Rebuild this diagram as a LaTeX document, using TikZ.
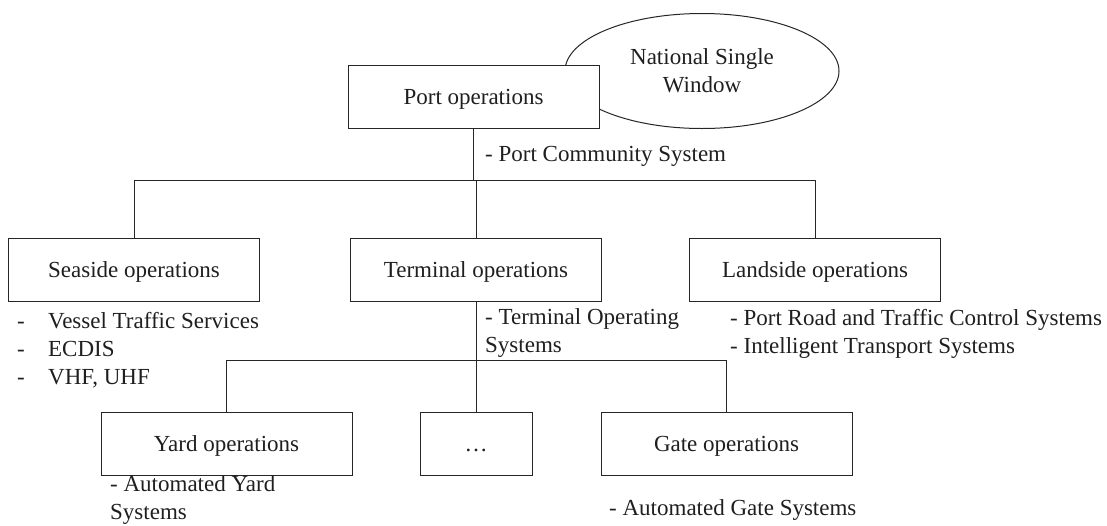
\documentclass[tikz,border=0pt]{standalone}
\usepackage{fontspec}
\setmainfont{Liberation Serif}
\usetikzlibrary{shapes.geometric}
\begin{document}
\begin{tikzpicture}[x=1pt,y=-1pt,
  every node/.style={font=\fontsize{23}{28}\selectfont, text=black!88},
  opbox/.style={draw=black!85, line width=1pt, fill=white, minimum width=251pt, minimum height=63pt, inner sep=0pt, text height=16pt, text depth=1pt},
  note/.style={anchor=west, align=left, inner sep=0pt},
  link/.style={draw=black!85, line width=1pt}]
\useasboundingbox (0,0) rectangle (1107,525);

% top level: port operations with the single window behind it
\node[draw=black!85, line width=1pt, ellipse, minimum width=274pt, minimum height=115pt, inner sep=0pt, align=center] (nsw) at (702,71) {National Single\\Window};
\node[opbox] (port) at (473.5,96.5) {Port operations};

% second level
\node[opbox] (sea)  at (134,269.5) {Seaside operations};
\node[opbox] (term) at (476,269.5) {Terminal operations};
\node[opbox] (land) at (815,269.5) {Landside operations};

% third level
\node[opbox] (yard) at (226.5,443.5) {Yard operations};
\node[opbox, minimum width=112pt] (more) at (476,443.5) {\dots};
\node[opbox] (gate) at (726.5,443.5) {Gate operations};

% bus lines
\coordinate (busA) at (0,180);
\coordinate (busB) at (0,360);
\draw[link] (port.south) -- (port.south |- busA);
\draw[link] (sea.north) -- (sea.north |- busA) -- (land.north |- busA) -- (land.north);
\draw[link] (term.north) -- (term.north |- busA);
\draw[link] (term.south) -- (term.south |- busB);
\draw[link] (yard.north) -- (yard.north |- busB) -- (gate.north |- busB) -- (gate.north);
\draw[link] (more.north) -- (more.north |- busB);

% supporting systems
\node[note] (pcs) at (485,156) {- Port Community System};
\node[note] (seasys) at (17,350) {\makebox[31pt][l]{-}Vessel Traffic Services\\\makebox[31pt][l]{-}ECDIS\\\makebox[31pt][l]{-}VHF, UHF};
\node[note] (termsys) at (485,333) {- Terminal Operating\\Systems};
\node[note] (landsys) at (730,334) {- Port Road and Traffic Control Systems\\- Intelligent Transport Systems};
\node[note] (yardsys) at (110,500) {- Automated Yard\\Systems};
\node[note] (gatesys) at (609,510) {- Automated Gate Systems};
\end{tikzpicture}
\end{document}
